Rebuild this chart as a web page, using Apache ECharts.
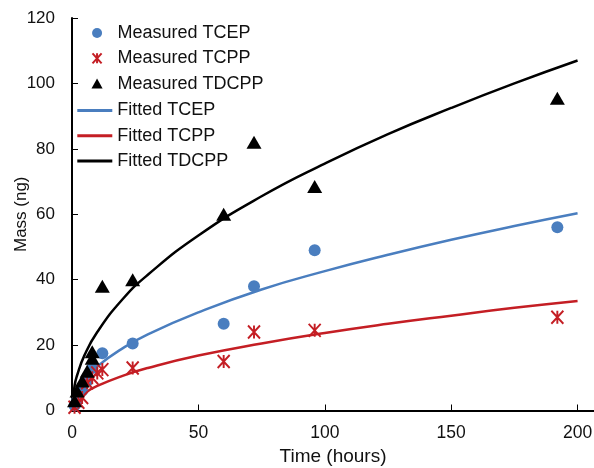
<!DOCTYPE html>
<html>
<head>
<meta charset="utf-8">
<script src="https://cdn.jsdelivr.net/npm/echarts@6/dist/echarts.min.js"></script>
<style>
html,body{margin:0;padding:0;background:#fff;}
#chart{width:594px;height:468px;}
</style>
</head>
<body>
<div id="chart"></div>
<script>
// Measured data (time in hours, mass in ng)
var timeTCEP   = [1, 2, 4, 6, 8, 12, 24, 60, 72, 96, 192];
var massTCEP   = [1.5, 3, 6, 9, 13, 17.5, 20.5, 26.5, 38, 49, 56];
var timeTCPP   = [1, 2.5, 4, 6, 8, 10, 12, 24, 60, 72, 96, 192];
var massTCPP   = [1, 2.5, 4, 8.5, 10, 11.5, 12.5, 13, 15, 24, 24.5, 28.5];
var timeTDCPP  = [1, 2, 4, 6, 8, 8, 12, 24, 60, 72, 96, 192];
var massTDCPP  = [3, 6, 9, 12, 16, 18, 38, 40, 60, 82, 68.5, 95.5];

// Fitted curves
var fitTime   = [0, 1, 2, 5, 10, 20, 30, 50, 75, 100, 125, 150, 175, 200];
var fitTCEP   = [0, 4.3, 6, 9.5, 13.5, 19, 23.3, 30, 37, 42.6, 47.6, 52.2, 56.4, 60.3];
var fitTCPP   = [0, 2.4, 3.4, 5.3, 7.5, 10.6, 13, 16.8, 20.5, 23.7, 26.5, 29, 31.4, 33.5];
var fitTDCPP  = [0, 7.5, 10.7, 17, 24, 34, 41.5, 53.5, 65.5, 75.5, 84.5, 92.5, 100, 107];

var xTicks = [0, 50, 100, 150, 200];
var yTicks = [0, 20, 40, 60, 80, 100, 120];

function pairs(xs, ys){ return xs.map(function(x,i){ return [x, ys[i]]; }); }

var blue = '#4a7ebf', red = '#c41e24', black = '#000000';
var asterisk = 'path://M0,0L10,11M10,0L0,11M5,0L5,11';
var triangle = 'path://M5,0L10,9L0,9Z';
var font = 'Liberation Sans, Arial, sans-serif';
var txt = '#111';

var chart = echarts.init(document.getElementById('chart'), null, {renderer:'canvas'});
chart.setOption({
  animation: false,
  backgroundColor: '#fff',
  grid: {left: 72, right: 0, top: 18, bottom: 57.5, containLabel: false, outerBoundsMode: 'none'},
  legend: [{
    left: 86.5, top: 18, orient: 'vertical', itemGap: 5.3,
    itemWidth: 31, itemHeight: 10, symbolKeepAspect: true,
    textStyle: {fontFamily: font, fontSize: 18, color: txt, lineHeight: 20},
    data: [
      {name: 'Measured TCEP', icon: 'circle'},
      {name: 'Measured TCPP', icon: asterisk},
      {name: 'Measured TDCPP', icon: triangle}
    ]
  },{
    left: 72.3, top: 95.5, orient: 'vertical', itemGap: 5.3,
    itemWidth: 35, itemHeight: 3,
    textStyle: {fontFamily: font, fontSize: 18, color: txt, lineHeight: 20},
    data: [
      {name: 'Fitted TCEP', icon: 'rect'},
      {name: 'Fitted TCPP', icon: 'rect'},
      {name: 'Fitted TDCPP', icon: 'rect'}
    ]
  }],
  xAxis: [{
    type: 'value', min: 0, max: 206.5, interval: 50,
    name: 'Time (hours)', nameLocation: 'middle', nameGap: 37, nameMoveOverlap: false,
    nameTextStyle: {fontFamily: font, fontSize: 19, color: txt},
    axisLine: {show: true, onZero: false, lineStyle: {color: '#000', width: 2}},
    axisTick: {show: true, inside: true, length: 6, lineStyle: {color: '#000', width: 1}},
    axisLabel: {fontFamily: font, fontSize: 17.5, color: txt, margin: 14,
      showMaxLabel: false,
      formatter: function(v){ return xTicks.indexOf(v) >= 0 ? String(v) : ''; }},
    splitLine: {show: false}
  },{
    type: 'value', position: 'top', min: 0, max: 206.5,
    axisLine: {show: true, lineStyle: {color: '#000', width: 2}},
    axisTick: {show: false}, axisLabel: {show: false}, splitLine: {show: false}
  }],
  yAxis: {
    type: 'value', min: 0, max: 120, interval: 20,
    name: 'Mass (ng)', nameLocation: 'middle', nameGap: 42, nameMoveOverlap: false,
    nameTextStyle: {fontFamily: font, fontSize: 17, color: txt},
    axisLine: {show: true, lineStyle: {color: '#000', width: 2}},
    axisTick: {show: true, inside: true, length: 6, lineStyle: {color: '#000', width: 1}},
    axisLabel: {fontFamily: font, fontSize: 17, color: txt, margin: 17,
      formatter: function(v){ return yTicks.indexOf(v) >= 0 ? String(v) : ''; }},
    splitLine: {show: false}
  },
  series: [
    {name: 'Measured TCEP', type: 'scatter', symbol: 'circle', symbolSize: 12,
     itemStyle: {color: blue, opacity: 1}, data: pairs(timeTCEP, massTCEP), z: 4},
    {name: 'Measured TCPP', type: 'scatter', symbol: asterisk, symbolSize: [12, 13],
     itemStyle: {color: 'rgba(0,0,0,0)', borderColor: red, borderWidth: 2, opacity: 1},
     data: pairs(timeTCPP, massTCPP), z: 4},
    {name: 'Measured TDCPP', type: 'scatter', symbol: 'triangle', symbolSize: [15, 13],
     itemStyle: {color: black, opacity: 1}, data: pairs(timeTDCPP, massTDCPP), z: 4},
    {name: 'Fitted TCEP', type: 'line', smooth: true, symbol: 'none', showSymbol: false,
     lineStyle: {color: blue, width: 2.5}, itemStyle: {color: blue},
     data: pairs(fitTime, fitTCEP), z: 3},
    {name: 'Fitted TCPP', type: 'line', smooth: true, symbol: 'none', showSymbol: false,
     lineStyle: {color: red, width: 2.5}, itemStyle: {color: red},
     data: pairs(fitTime, fitTCPP), z: 3},
    {name: 'Fitted TDCPP', type: 'line', smooth: true, symbol: 'none', showSymbol: false,
     lineStyle: {color: black, width: 2.5}, itemStyle: {color: black},
     data: pairs(fitTime, fitTDCPP), z: 3}
  ]
});
</script>
</body>
</html>
